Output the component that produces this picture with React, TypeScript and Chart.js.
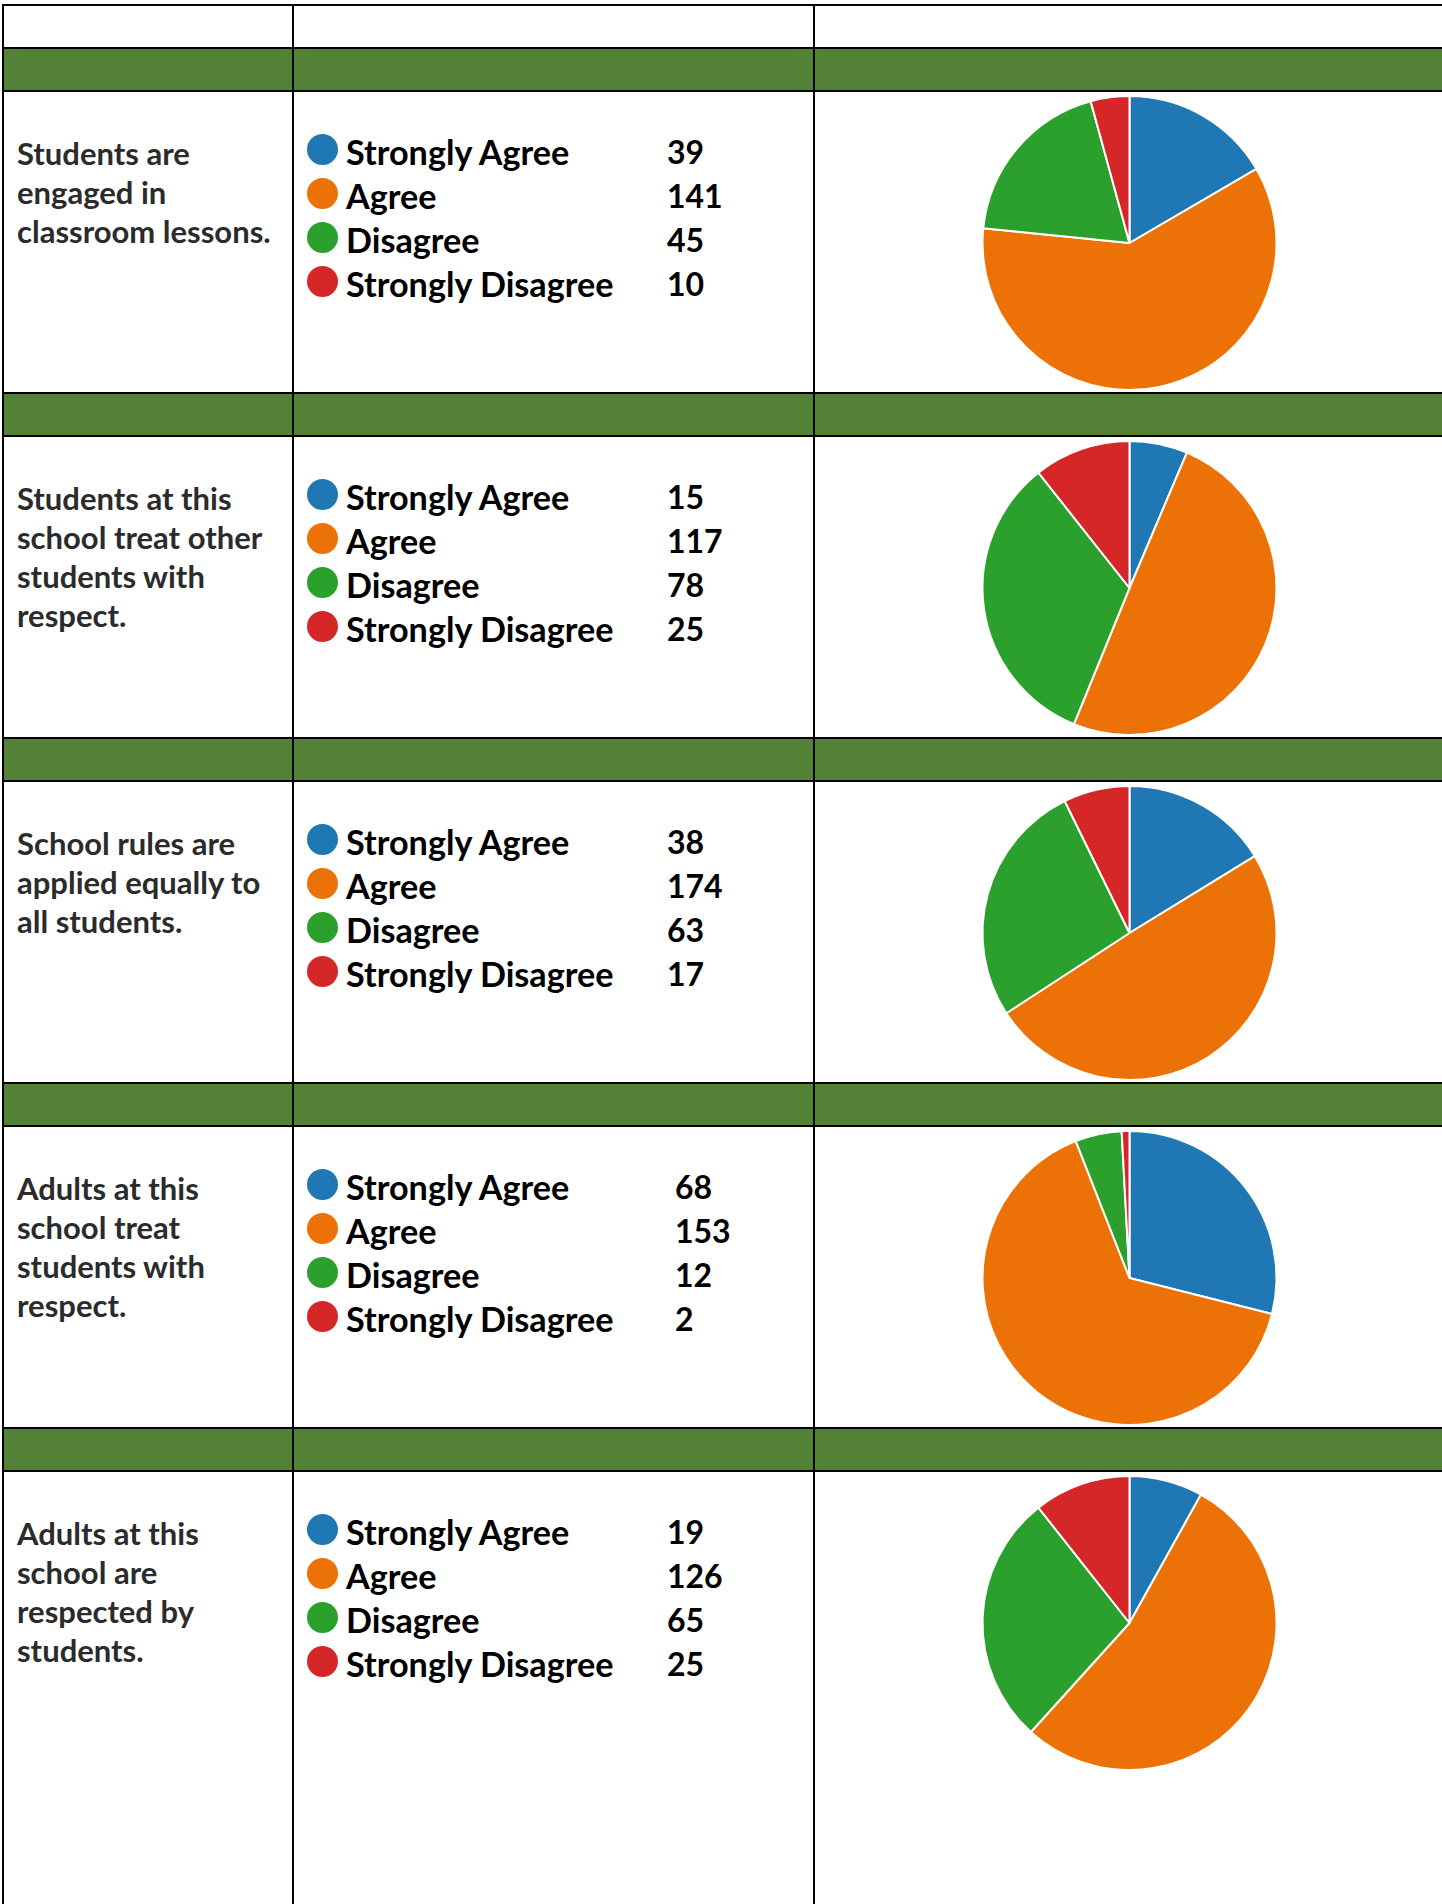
import React, { useEffect, useRef } from "react";
import { Chart, registerables } from "chart.js";

Chart.register(...registerables);

// ---------- data ----------
const categories = ["Strongly Agree", "Agree", "Disagree", "Strongly Disagree"];
const sliceColors = ["#1f77b4", "#ec7207", "#2ca02c", "#d62728"];

const q1Lines = ["Students are", "engaged in", "classroom lessons."];
const q1Values = [39, 141, 45, 10];
const q1PieValues = [39, 141, 45, 10];

const q2Lines = ["Students at this", "school treat other", "students with", "respect."];
const q2Values = [15, 117, 78, 25];
const q2PieValues = [15, 117, 78, 25];

const q3Lines = ["School rules are", "applied equally to", "all students."];
const q3Values = [38, 174, 63, 17];
// the pie in the picture is drawn with an Agree share of about 116
const q3PieValues = [38, 116, 63, 17];

const q4Lines = ["Adults at this", "school treat", "students with", "respect."];
const q4Values = [68, 153, 12, 2];
const q4PieValues = [68, 153, 12, 2];

const q5Lines = ["Adults at this", "school are", "respected by", "students."];
const q5Values = [19, 126, 65, 25];
const q5PieValues = [19, 126, 65, 25];

const questions = [
  { lines: q1Lines, values: q1Values, pie: q1PieValues },
  { lines: q2Lines, values: q2Values, pie: q2PieValues },
  { lines: q3Lines, values: q3Values, pie: q3PieValues },
  { lines: q4Lines, values: q4Values, pie: q4PieValues },
  { lines: q5Lines, values: q5Values, pie: q5PieValues },
];

// ---------- layout ----------
const W = 1442;
const H = 1904;
const TABLE_LEFT = 2;
const TABLE_RIGHT = 1446;
const BORDER = 2;
const COL_X = [2, 292, 813, 1444]; // vertical border left edges
const FIRST_BAND_TOP = 47;
const BAND_H = 45; // incl. both borders
const ROW_H = 300; // content height
const PITCH = BAND_H + ROW_H;
const GREEN = "#538135";
const NUM_LEFT = [667, 667, 667, 675, 667];

const FONT = "Lato, 'Open Sans', 'DejaVu Sans', sans-serif";

function PieChart({ values }: { values: number[] }) {
  const ref = useRef<HTMLCanvasElement>(null);
  useEffect(() => {
    if (!ref.current) return;
    const chart = new Chart(ref.current, {
      type: "pie",
      data: {
        labels: categories,
        datasets: [
          {
            data: values,
            backgroundColor: sliceColors,
            borderColor: "#ffffff",
            borderWidth: 2,
          },
        ],
      },
      options: {
        animation: false,
        responsive: false,
        maintainAspectRatio: false,
        layout: { padding: { top: 3, bottom: 1 } },
        plugins: {
          legend: { display: false },
          tooltip: { enabled: false },
        },
      },
    });
    return () => chart.destroy();
  }, [values]);
  const w = COL_X[3] - (COL_X[2] + BORDER);
  return <canvas ref={ref} width={w} height={ROW_H} style={{ width: w, height: ROW_H, display: "block" }} />;
}

function Line({ x, y, w, h }: { x: number; y: number; w: number; h: number }) {
  return <div style={{ position: "absolute", left: x, top: y, width: w, height: h, background: "#000" }} />;
}

export default function App() {
  const pieces: React.ReactNode[] = [];
  const tableWidth = TABLE_RIGHT - TABLE_LEFT;

  pieces.push(<Line key="top" x={TABLE_LEFT} y={4} w={tableWidth} h={BORDER} />);

  questions.forEach((q, i) => {
    const bandTop = FIRST_BAND_TOP + PITCH * i;
    const contentTop = bandTop + BAND_H;
    pieces.push(
      <div
        key={"g" + i}
        style={{ position: "absolute", left: TABLE_LEFT, top: bandTop, width: tableWidth, height: BAND_H, background: GREEN }}
      />
    );
    pieces.push(<Line key={"bt" + i} x={TABLE_LEFT} y={bandTop} w={tableWidth} h={BORDER} />);
    pieces.push(<Line key={"bb" + i} x={TABLE_LEFT} y={bandTop + BAND_H - BORDER} w={tableWidth} h={BORDER} />);

    pieces.push(
      <div
        key={"q" + i}
        style={{
          position: "absolute",
          left: 17,
          top: contentTop + 42,
          fontFamily: FONT,
          fontWeight: 700,
          fontSize: 31,
          lineHeight: "39px",
          color: "#2b2b2b",
          whiteSpace: "nowrap",
        }}
      >
        {q.lines.map((l, k) => (
          <div key={k}>{l}</div>
        ))}
      </div>
    );

    categories.forEach((c, k) => {
      const cy = contentTop + 60 + 44 * k;
      pieces.push(
        <div
          key={"dot" + i + "-" + k}
          style={{
            position: "absolute",
            left: 307,
            top: cy - 3 - 15.5,
            width: 31,
            height: 31,
            borderRadius: "50%",
            background: sliceColors[k],
          }}
        />
      );
      pieces.push(
        <div
          key={"lab" + i + "-" + k}
          style={{
            position: "absolute",
            left: 346,
            top: cy - 22,
            height: 44,
            lineHeight: "44px",
            fontFamily: FONT,
            fontWeight: 700,
            fontSize: 34.2,
            color: "#000",
            whiteSpace: "nowrap",
          }}
        >
          {c}
        </div>
      );
      pieces.push(
        <div
          key={"num" + i + "-" + k}
          style={{
            position: "absolute",
            left: NUM_LEFT[i],
            top: cy - 22,
            height: 44,
            lineHeight: "44px",
            fontFamily: FONT,
            fontWeight: 700,
            fontSize: 32,
            color: "#000",
            whiteSpace: "nowrap",
          }}
        >
          {q.values[k]}
        </div>
      );
    });

    pieces.push(
      <div key={"pie" + i} style={{ position: "absolute", left: COL_X[2] + BORDER, top: contentTop }}>
        <PieChart values={q.pie} />
      </div>
    );
  });

  COL_X.forEach((x, k) => {
    pieces.push(<Line key={"v" + k} x={x} y={4} w={BORDER} h={H} />);
  });

  return (
    <div
      style={{
        position: "absolute",
        left: 0,
        top: 0,
        width: W,
        height: H,
        overflow: "hidden",
        background: "#fff",
      }}
    >
      {pieces}
    </div>
  );
}
